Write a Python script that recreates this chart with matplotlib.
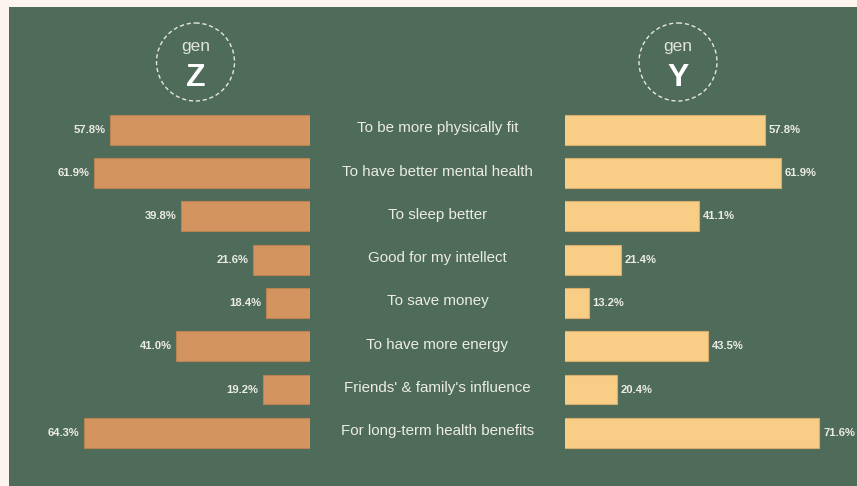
import matplotlib
matplotlib.use("Agg")
import matplotlib.pyplot as plt
from matplotlib.patches import Circle, Rectangle

categories = [
    "To be more physically fit",
    "To have better mental health",
    "To sleep better",
    "Good for my intellect",
    "To save money",
    "To have more energy",
    "Friends' & family's influence",
    "For long-term health benefits",
]
gen_z = [57.8, 61.9, 39.8, 21.6, 18.4, 41.0, 19.2, 64.3]
gen_y = [57.8, 61.9, 41.1, 21.4, 13.2, 43.5, 20.4, 71.6]
group_labels = ["Z", "Y"]

plt.rcParams['font.family'] = ['Liberation Sans', 'DejaVu Sans']

W, H = 857, 486
BG = '#4f6b5a'
BORDER = '#fdf4ef'
ORANGE = '#d39460'
YELLOW = '#f8ce86'
TXT = '#ecece6'

fig = plt.figure(figsize=(W / 100, H / 100), dpi=100)
fig.patch.set_facecolor(BORDER)

# overlay axes in pixel units
ov = fig.add_axes([0, 0, 1, 1])
ov.set_xlim(0, W)
ov.set_ylim(H, 0)
ov.axis('off')
ov.add_patch(Rectangle((9, 7), W - 9, H - 7, facecolor=BG, edgecolor='none', zorder=0))

# value axis: linear, truncated at x_min (bars start at the axis edge)
scale = 3.95   # px per percent
x_min = 7.2
row0, step = 129.7, 43.3
r_top = (0 - row0) / step
r_bot = (H - row0) / step
n = len(categories)
rows = list(range(n))

# left axes (gen Z)
lx0, lx1 = 10, 310
axl = fig.add_axes([lx0 / W, 0, (lx1 - lx0) / W, 1])
axl.set_xlim(x_min + (lx1 - lx0) / scale, x_min)
axl.set_ylim(r_bot, r_top)
axl.axis('off')
axl.barh(rows, gen_z, height=0.69, color=ORANGE, edgecolor='#b98251', linewidth=0.8, zorder=2)
for r, v in zip(rows, gen_z):
    axl.text(v + 1.2, r, f"{v:.1f}%", ha='right', va='center', fontsize=8.1,
             fontweight='bold', color=TXT)

# right axes (gen Y)
rx0, rx1 = 565, 857
axr = fig.add_axes([rx0 / W, 0, (rx1 - rx0) / W, 1])
axr.set_xlim(x_min, x_min + (rx1 - rx0) / scale)
axr.set_ylim(r_bot, r_top)
axr.axis('off')
axr.barh(rows, gen_y, height=0.69, color=YELLOW, edgecolor='#d6ad6c', linewidth=0.8, zorder=2)
for r, v in zip(rows, gen_y):
    axr.text(v + 1.0, r, f"{v:.1f}%", ha='left', va='center', fontsize=8.1,
             fontweight='bold', color=TXT)

# category labels
for r, c in zip(rows, categories):
    ov.text(437.5, row0 + r * step - 1.5, c, ha='center', va='center', fontsize=10.9, color=TXT)

# header circles
for cx, lab in zip([195.5, 678], group_labels):
    ov.add_patch(Circle((cx, 62), 39, fill=False, edgecolor='#e6e6e0', linestyle=(0, (3, 2)),
                        linewidth=1.0, zorder=3))
    ov.text(cx, 46, "gen", ha='center', va='center', fontsize=12.5, color='#e2e2dc')
    ov.text(cx, 78, lab, ha='center', va='center', fontsize=23, fontweight='bold', color='white')

fig.savefig('out.png', dpi=100, facecolor=fig.get_facecolor())
